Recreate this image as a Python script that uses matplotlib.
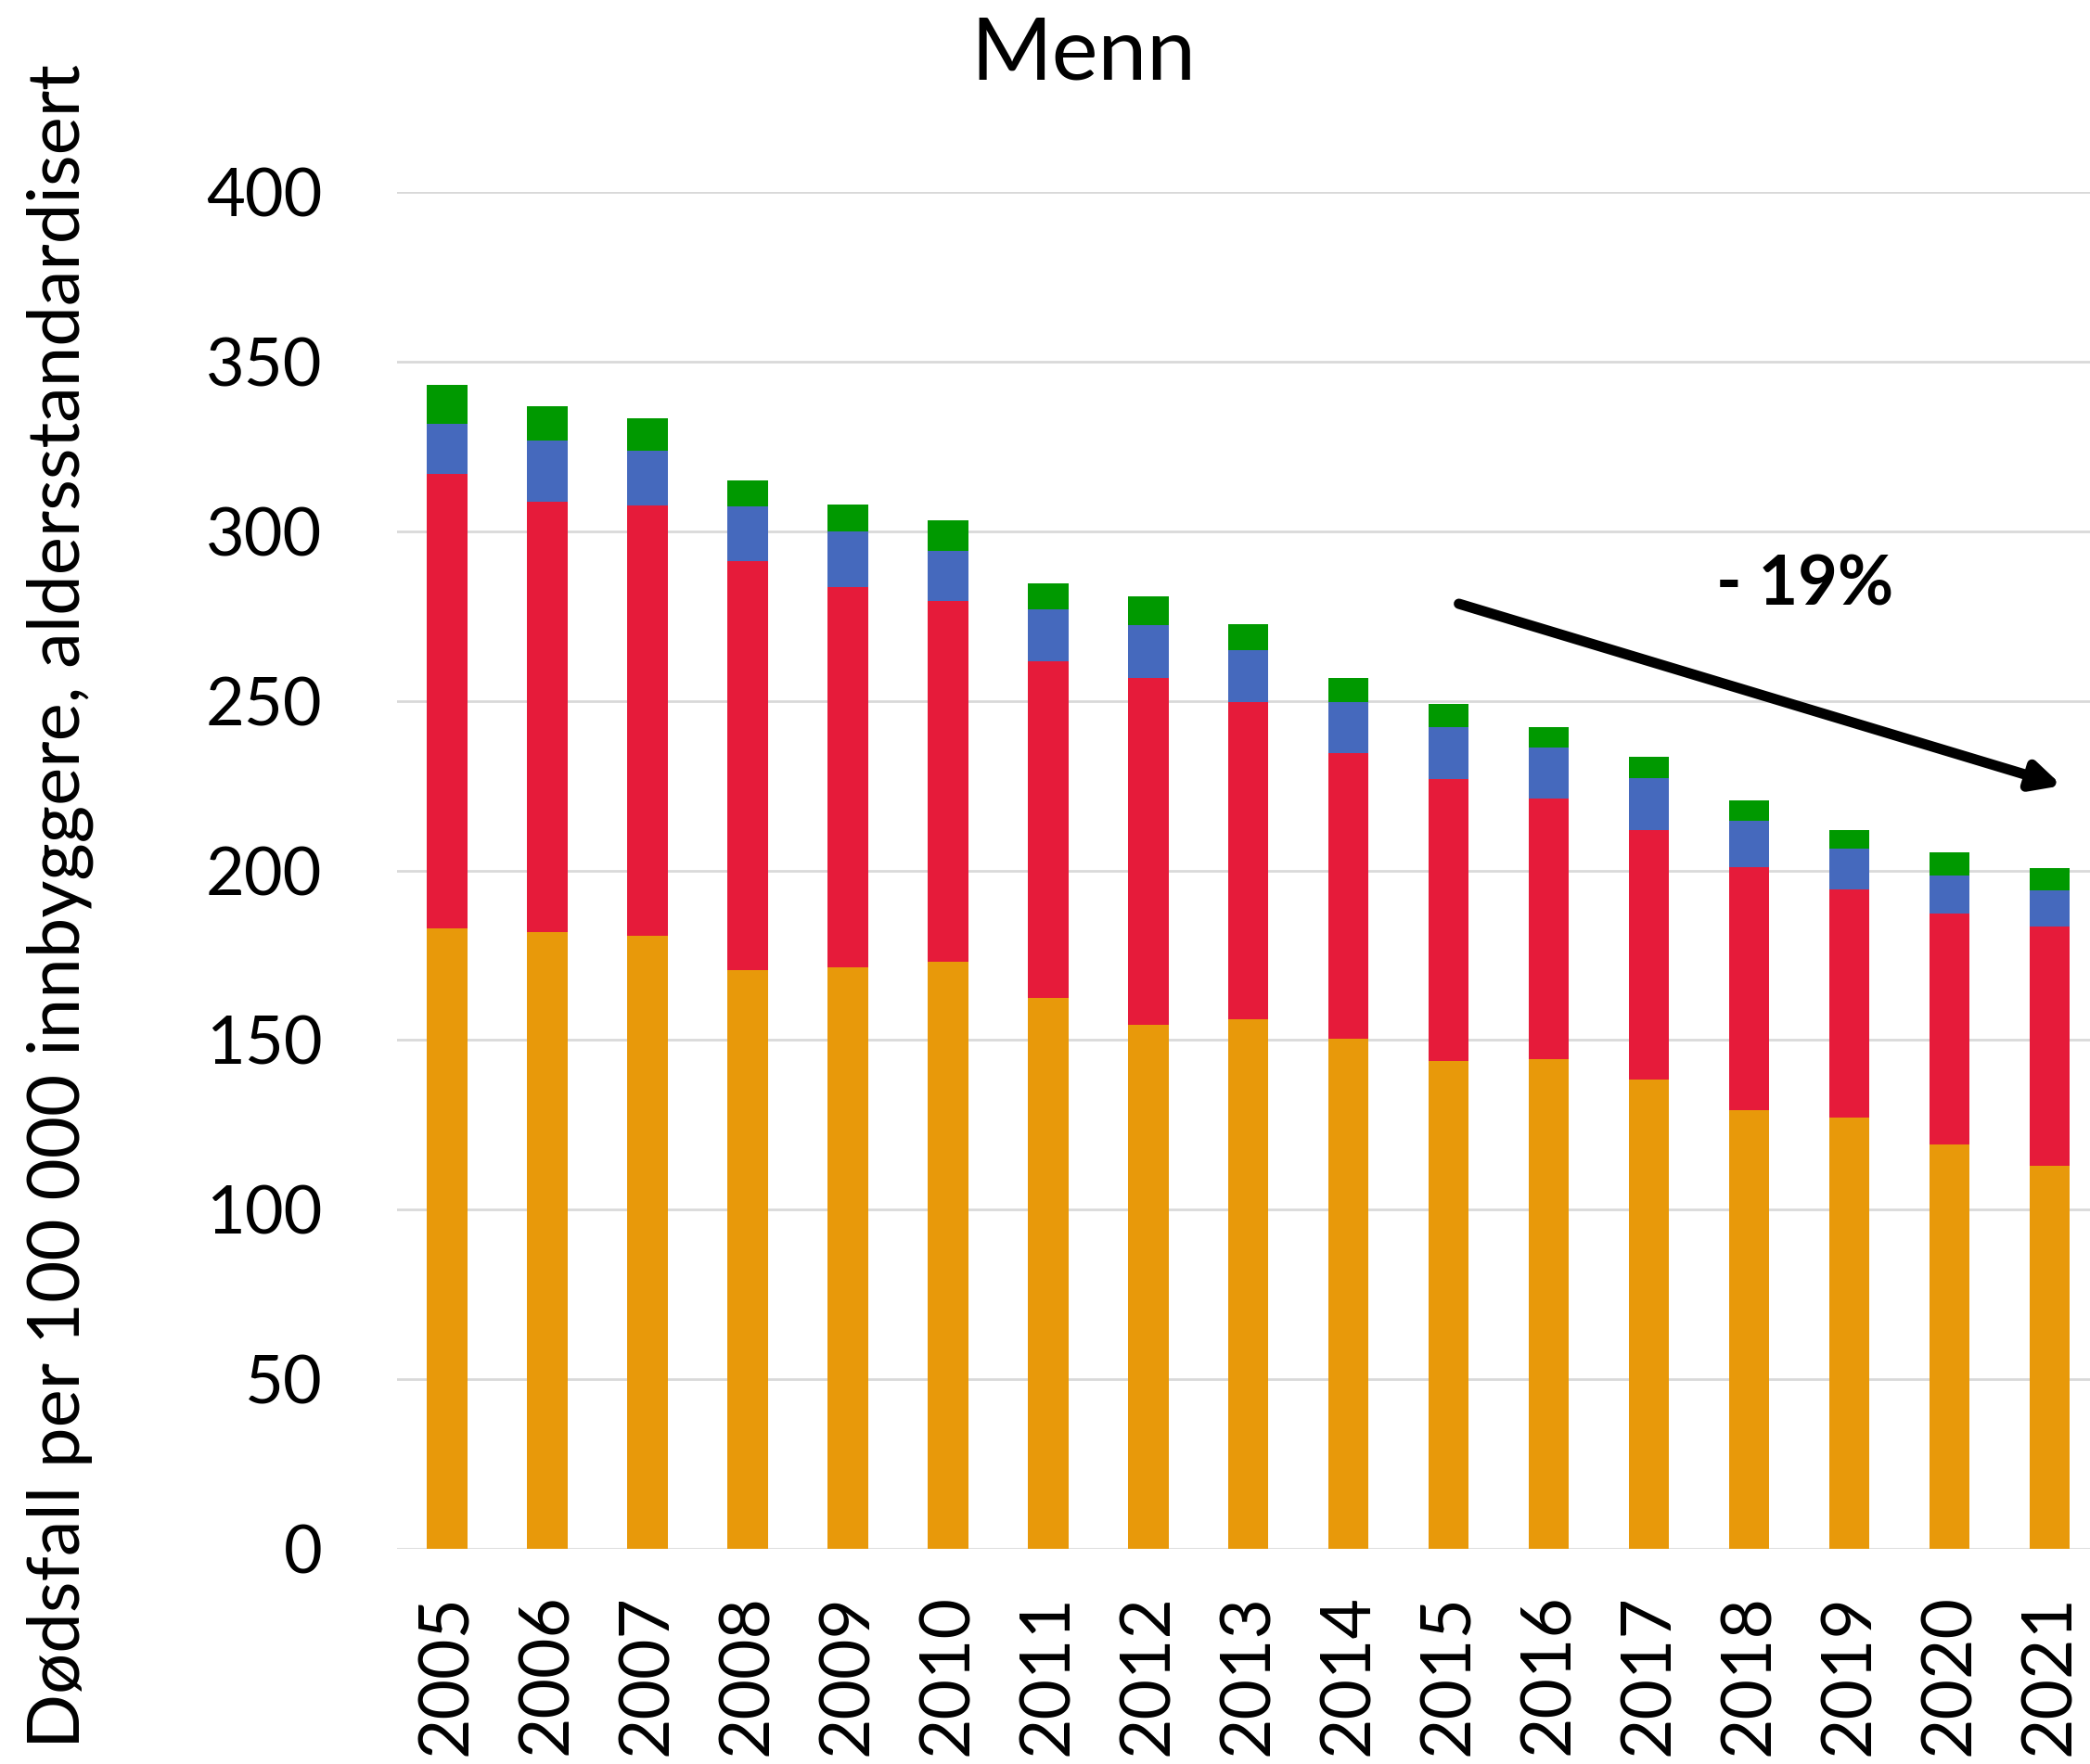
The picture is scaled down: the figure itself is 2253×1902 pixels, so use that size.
import numpy as np
import matplotlib
matplotlib.use('Agg')
import matplotlib.pyplot as plt

###############################################################################

years = [str(y) for y in range(2005, 2022)]

orange = [183.0, 181.7, 180.6, 170.7, 171.3, 173.0, 162.3, 154.4, 156.0,
          150.5, 143.8, 144.3, 138.3, 129.2, 127.0, 119.3, 113.0]
red = [133.9, 127.1, 127.1, 120.4, 112.1, 106.4, 99.4, 102.2, 93.5,
       84.1, 83.0, 76.8, 73.5, 71.8, 67.4, 67.9, 70.5]
blue = [14.7, 17.8, 15.9, 16.2, 16.6, 14.7, 15.3, 15.7, 15.3,
        14.9, 15.4, 15.0, 15.4, 13.5, 11.9, 11.2, 10.5]
green = [11.6, 10.2, 9.6, 7.8, 7.8, 9.0, 7.5, 8.6, 7.9,
         7.1, 6.8, 6.2, 6.2, 6.2, 5.5, 6.9, 6.7]

colors = ['#E8990A', '#E61B3A', '#4569BD', '#009900']

###############################################################################

if __name__ == "__main__":

    plt.rcParams['font.family'] = ['Lato', 'DejaVu Sans']

    fig = plt.figure(figsize=(22.53, 19.02), dpi=100)
    ax = fig.add_axes([428 / 2253, 232 / 1902, 1 - 428 / 2253, 1463 / 1902])

    x = np.arange(len(years))
    bottom = np.zeros(len(years))
    for vals, col in zip([orange, red, blue, green], colors):
        ax.bar(x, vals, bottom=bottom, width=0.4, color=col, zorder=3)
        bottom += np.array(vals)

    ax.set_ylim(0, 400)
    ax.set_xlim(-0.5, 16.4)
    ax.set_yticks(range(0, 401, 50))
    ax.set_xticks(x)
    ax.set_xticklabels(years, rotation=90)
    ax.grid(axis='y', color='#D9D9D9', linewidth=2, zorder=0)
    for s in ax.spines.values():
        s.set_visible(False)
    ax.tick_params(length=0)
    ax.tick_params(axis='y', pad=58, labelsize=52)
    ax.tick_params(axis='x', pad=35, labelsize=54)

    fig.text(1168 / 2253, 1 - 60 / 1902, 'Menn', fontsize=68,
             ha='center', va='center')
    fig.text(65 / 2253, 1 - 977 / 1902,
             'Dødsfall per 100 000 innbyggere, aldersstandardisert',
             fontsize=56, rotation=90, ha='center', va='center')

    ax.annotate('', xy=(16.12, 225.0), xytext=(10.1, 278.6),
                arrowprops=dict(arrowstyle='-|>,head_length=1.8,head_width=0.9',
                                color='black', lw=8, shrinkA=0, shrinkB=0),
                zorder=5)
    ax.text(13.55, 284, '- 19%', fontsize=53, fontweight='bold',
            ha='center', va='center')

    plt.savefig('out.png', dpi=100)
